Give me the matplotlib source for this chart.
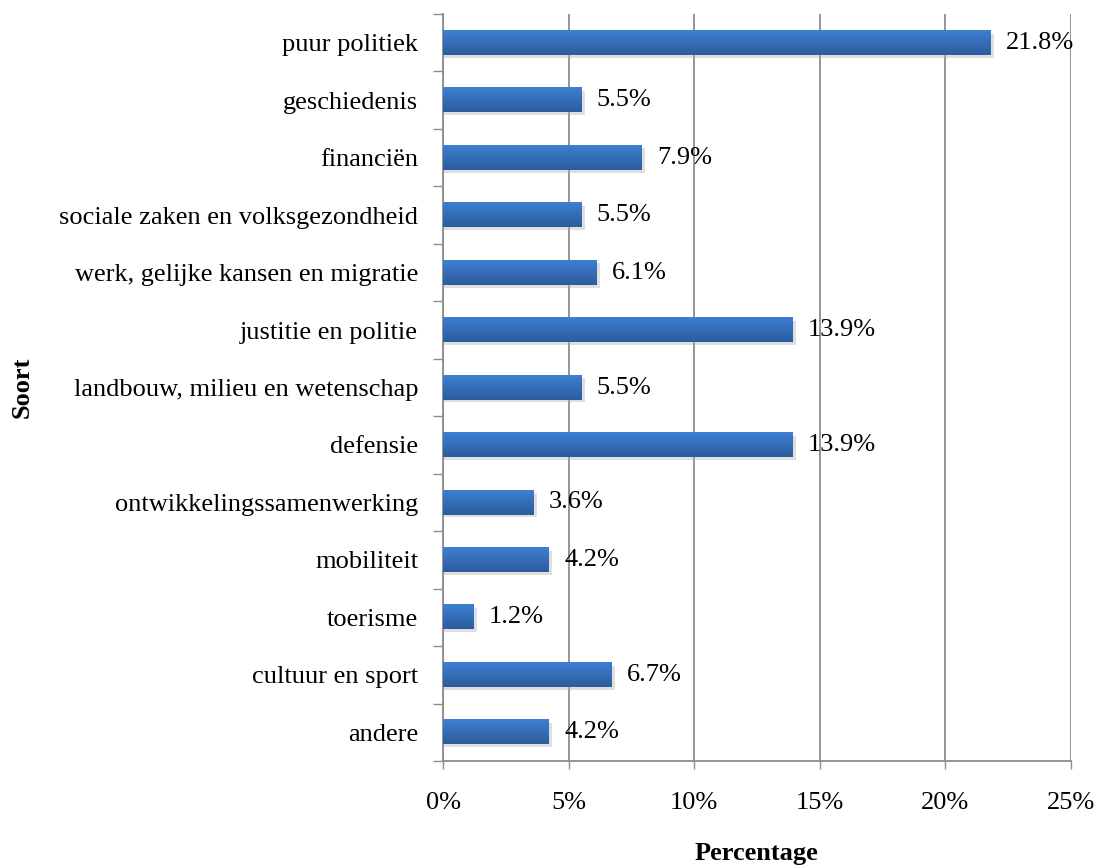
import numpy as np
import matplotlib.pyplot as plt
from matplotlib.ticker import FixedLocator, PercentFormatter
from matplotlib.colors import LinearSegmentedColormap

plt.rcParams['font.family'] = ['Liberation Serif', 'DejaVu Serif']

categories = ["puur politiek", "geschiedenis", "financiën",
              "sociale zaken en volksgezondheid",
              "werk, gelijke kansen en migratie", "justitie en politie",
              "landbouw, milieu en wetenschap", "defensie",
              "ontwikkelingssamenwerking", "mobiliteit", "toerisme",
              "cultuur en sport", "andere"]
values = [21.8, 5.5, 7.9, 5.5, 6.1, 13.9, 5.5, 13.9, 3.6, 4.2, 1.2, 6.7, 4.2]
xticks = [0, 5, 10, 15, 20, 25]

fs = 19
fig = plt.figure(figsize=(10.98, 8.66), dpi=100)
ax = fig.add_axes([0.4035, 0.1212, 0.5719, 0.8626])

n = len(categories)
ypos = np.arange(n)[::-1]
bh = 0.42

# gradient fill (lighter on top, darker below)
grad = np.linspace(0, 1, 50).reshape(-1, 1)
cmap = LinearSegmentedColormap.from_list("bl", ["#3d7fd3", "#2c5c9c"])

for y, v in zip(ypos, values):
    # soft shadow
    ax.barh(y - 0.05, v + 0.1, height=bh, left=0.05, color="#b0b0b0",
            alpha=0.4, zorder=2, linewidth=0)
    ax.imshow(grad, cmap=cmap, aspect="auto", origin="upper",
              extent=[0, v, y - bh / 2, y + bh / 2], zorder=3)
    ax.text(v + 0.62, y, f"{v:.1f}%", va="center", ha="left", fontsize=fs,
            zorder=4)

ax.set_xlim(0, 25)
ax.set_ylim(-0.5, n - 0.5)

ax.set_xticks(xticks)
ax.xaxis.set_major_formatter(PercentFormatter(decimals=0))
ax.tick_params(axis="x", length=6, width=1.0, color="#8c8c8c", pad=16,
               labelsize=fs)

ax.set_yticks(ypos)
ax.set_yticklabels(categories)
ax.yaxis.set_minor_locator(FixedLocator(np.arange(-0.5, n, 1.0)))
ax.tick_params(axis="y", which="major", length=0, pad=18, labelsize=fs)
ax.tick_params(axis="y", which="minor", length=7, width=1.0,
               color="#8c8c8c")

ax.grid(axis="x", color="#8c8c8c", linewidth=1.3, zorder=1)
ax.set_axisbelow(True)
for s in ["top", "right"]:
    ax.spines[s].set_visible(False)
for s in ["left", "bottom"]:
    ax.spines[s].set_color("#8c8c8c")
    ax.spines[s].set_linewidth(1.3)

fig.text(0.689, 0.015, "Percentage", fontsize=fs, fontweight="bold",
         ha="center", va="center")
fig.text(0.02, 0.553, "Soort", fontsize=fs, fontweight="bold",
         ha="center", va="center", rotation=90)

fig.savefig("out.png", dpi=100)
